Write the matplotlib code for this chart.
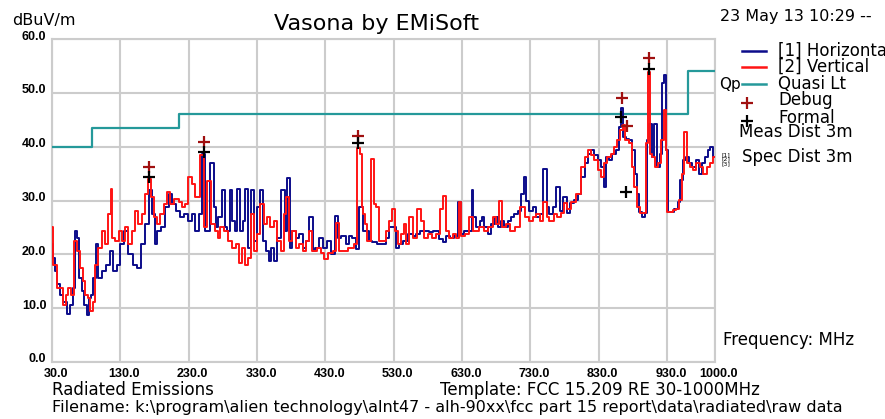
import matplotlib
matplotlib.use("Agg")
import matplotlib.pyplot as plt
import matplotlib.transforms as mtransforms
from matplotlib.lines import Line2D

W, H = 885, 419

# [1] Horizontal trace (MHz, dBuV/m)
h_freq = [30, 32, 37, 39, 44, 49, 54, 59, 61, 65, 69, 71, 76, 78, 83, 86, 88, 93, 96, 100,
          105, 113, 117, 122, 127, 132, 139, 144, 152, 157, 164, 169, 174, 179, 181, 186, 193, 198, 203, 208,
          215, 220, 227, 232, 237, 242, 247, 252, 257, 264, 269, 271, 276, 281, 284, 289, 292, 296, 299, 303,
          307, 311, 315, 318, 324, 328, 333, 336, 340, 345, 350, 352, 357, 362, 369, 372, 376, 379, 384, 389,
          394, 399, 403, 410, 413, 418, 424, 430, 435, 440, 447, 450, 457, 462, 467, 472, 477, 482, 487, 491,
          496, 501, 509, 516, 521, 526, 531, 535, 540, 548, 555, 560, 565, 572, 579, 584, 592, 599, 604, 609,
          616, 621, 627, 631, 636, 643, 645, 648, 653, 658, 660, 665, 670, 675, 680, 685, 689, 694, 699, 704,
          709, 714, 719, 722, 726, 731, 736, 741, 746, 752, 755, 760, 765, 770, 775, 781, 786, 790, 798, 802,
          807, 812, 817, 821, 826, 831, 836, 839, 843, 848, 852, 857, 861, 864, 868, 871, 876, 881, 885, 888,
          890, 895, 899, 902, 906, 909, 913, 917, 921, 924, 928, 930, 932, 938, 943, 948, 951, 955, 959, 964,
          969, 974, 979, 983, 988, 991, 994, 1000]
h_level = [22.0, 19.4, 16.9, 14.4, 12.5, 11.2, 9.0, 10.6, 13.7, 24.4, 23.1, 15.6, 13.1, 10.6, 8.7, 11.9, 12.5, 15.6, 21.9, 15.6,
           16.9, 18.1, 20.6, 16.9, 18.1, 21.9, 24.4, 20.0, 18.1, 17.5, 21.9, 25.6, 31.9, 27.5, 21.9, 24.4, 25.0, 28.7, 31.2, 29.4,
           28.1, 26.9, 27.5, 26.2, 27.5, 24.4, 27.5, 38.7, 24.4, 36.9, 28.7, 25.0, 26.9, 31.9, 25.0, 24.4, 31.9, 26.2, 24.4, 32.2,
           24.4, 26.2, 32.2, 21.2, 31.9, 22.5, 28.7, 31.9, 22.5, 20.6, 18.7, 21.2, 18.7, 23.1, 31.9, 24.4, 34.1, 21.2, 24.4, 23.1,
           23.7, 21.2, 22.5, 27.0, 20.6, 21.2, 23.1, 21.2, 22.5, 20.0, 27.2, 23.1, 23.4, 21.9, 23.4, 23.1, 20.9, 28.7, 24.4, 24.4,
           22.5, 22.2, 21.9, 21.9, 23.1, 25.0, 25.0, 21.2, 21.9, 22.5, 23.7, 23.4, 23.7, 24.4, 24.4, 24.1, 24.4, 22.8, 22.2, 23.4,
           23.1, 23.4, 29.7, 23.7, 24.4, 24.4, 31.9, 26.9, 25.0, 26.2, 26.9, 25.0, 23.7, 25.6, 26.9, 25.0, 26.2, 25.0, 26.2, 26.9,
           27.5, 28.1, 31.2, 34.4, 30.0, 28.1, 28.7, 26.9, 27.5, 35.9, 28.7, 27.5, 28.7, 32.5, 28.1, 30.7, 27.6, 29.5, 30.1, 31.3,
           34.4, 36.9, 38.7, 39.4, 38.4, 37.5, 36.3, 32.6, 38.1, 37.5, 38.7, 39.4, 43.7, 47.1, 41.8, 41.5, 41.2, 39.4, 35.0, 31.3,
           27.9, 27.0, 27.6, 41.2, 44.3, 38.1, 44.3, 36.3, 38.7, 51.8, 53.3, 39.4, 27.9, 27.9, 28.5, 29.8, 33.8, 37.5, 38.1, 36.9,
           36.3, 37.5, 35.0, 36.9, 38.1, 39.4, 40.0, 38.1]

# [2] Vertical trace
v_freq = [30, 34, 42, 49, 51, 56, 59, 64, 69, 74, 76, 81, 83, 88, 91, 96, 100, 105, 110, 115,
          117, 120, 125, 130, 135, 139, 144, 149, 154, 159, 164, 169, 173, 176, 181, 186, 191, 196, 201, 205,
          213, 218, 223, 227, 232, 237, 242, 250, 254, 259, 267, 271, 274, 279, 284, 291, 296, 301, 306, 311,
          315, 318, 323, 328, 333, 337, 342, 347, 352, 357, 362, 367, 372, 374, 379, 384, 389, 394, 399, 403,
          408, 413, 421, 425, 430, 438, 443, 447, 452, 460, 465, 469, 474, 478, 482, 484, 487, 489, 494, 499,
          503, 506, 511, 516, 521, 526, 530, 533, 538, 543, 546, 550, 555, 560, 567, 572, 577, 582, 589, 594,
          600, 605, 609, 614, 619, 623, 627, 631, 638, 643, 650, 658, 665, 672, 677, 682, 686, 691, 697, 704,
          711, 719, 724, 731, 736, 741, 746, 752, 756, 758, 763, 767, 772, 776, 781, 786, 793, 800, 807, 812,
          817, 821, 826, 831, 836, 840, 845, 850, 855, 859, 863, 867, 871, 876, 880, 883, 888, 893, 898, 901,
          904, 906, 909, 914, 919, 924, 928, 929, 931, 936, 940, 945, 950, 953, 957, 961, 966, 970, 975, 980,
          986, 990, 995, 1000]
v_level = [25.0, 18.1, 13.7, 10.6, 12.5, 13.7, 12.5, 22.5, 20.6, 17.5, 15.0, 12.5, 11.9, 9.4, 11.2, 18.1, 21.2, 24.4, 21.9, 27.5,
           32.2, 23.1, 22.5, 24.4, 22.5, 25.0, 21.9, 24.4, 28.1, 25.6, 27.5, 31.2, 34.0, 30.6, 26.9, 25.6, 27.5, 29.4, 31.5, 29.4,
           30.3, 29.7, 28.7, 29.4, 34.4, 33.1, 30.6, 38.4, 25.0, 33.7, 25.6, 24.4, 23.1, 25.0, 24.4, 22.5, 21.2, 21.9, 18.4, 21.2,
           18.1, 19.4, 27.5, 20.6, 23.7, 29.4, 25.6, 26.9, 25.0, 26.2, 22.5, 20.6, 27.5, 30.6, 22.5, 24.4, 21.2, 21.9, 20.6, 22.5,
           24.4, 20.6, 21.2, 20.3, 19.1, 20.3, 20.6, 25.9, 20.6, 20.6, 21.2, 21.2, 21.9, 39.7, 38.7, 28.7, 27.5, 25.6, 22.5, 37.8,
           29.4, 28.7, 22.5, 22.5, 24.4, 26.2, 28.4, 24.4, 21.9, 23.7, 25.6, 21.9, 26.9, 23.1, 28.4, 26.2, 23.1, 23.7, 23.1, 23.7,
           28.4, 30.9, 24.4, 23.1, 23.7, 23.1, 29.7, 23.4, 23.7, 26.9, 24.4, 25.0, 24.4, 25.0, 26.9, 25.6, 30.0, 25.0, 25.6, 24.4,
           25.0, 28.7, 26.9, 26.2, 26.9, 27.5, 26.2, 29.7, 26.9, 26.2, 26.2, 27.5, 26.9, 27.6, 29.5, 28.5, 29.8, 31.3, 36.3, 38.1,
           39.4, 38.4, 37.5, 35.7, 34.4, 36.9, 38.1, 38.7, 40.0, 41.2, 43.1, 44.0, 41.2, 40.6, 36.3, 32.6, 28.8, 27.6, 27.6, 40.6,
           53.9, 38.7, 38.1, 36.3, 36.9, 41.2, 46.8, 39.4, 27.9, 27.9, 28.2, 28.5, 30.1, 35.0, 42.8, 36.9, 36.3, 35.7, 36.9, 36.3,
           35.0, 36.3, 36.9, 38.1]

# Quasi-peak limit (step changes)
limit_freq = [30, 88, 216, 960, 1000]
limit_level = [40.0, 43.5, 46.0, 54.0, 54.0]

# markers
debug_freq = [172, 252, 478, 864, 871, 903]
debug_level = [36.3, 40.9, 42.0, 49.0, 43.8, 56.4]
formal_freq = [172, 252, 478, 863, 870, 903]
formal_level = [34.4, 39.1, 40.6, 45.5, 31.5, 54.4]

x_ticks = [30, 130, 230, 330, 430, 530, 630, 730, 830, 930, 1000]
y_ticks = [0, 10, 20, 30, 40, 50, 60]

BLUE = "#0c0c8a"
RED = "#ff1414"
TEAL = "#25999a"
DEBUG = "#a01010"
GRID = "#cccccc"


def fxy(x, y):
    # pixel position -> figure fraction
    return x / W, 1 - y / H


def main():
    plt.rcParams['font.family'] = ['DejaVu Sans']
    fig = plt.figure(figsize=(W / 100, H / 100), dpi=100)
    ax = fig.add_axes([52 / W, 1 - 362 / H, (715 - 52) / W, (362 - 39) / H])
    draw_traces(ax)
    format_axes(fig, ax)
    draw_legend(fig)
    draw_texts(fig)
    fig.savefig("out.png", dpi=100)


def draw_traces(ax):
    ax.step(limit_freq, limit_level, where="post", color=TEAL, lw=1.6, zorder=3)
    ax.step(h_freq, h_level, where="mid", color=BLUE, lw=1.4, zorder=4)
    ax.step(v_freq, v_level, where="mid", color=RED, lw=1.4, zorder=5)
    ax.plot(debug_freq, debug_level, "+", color=DEBUG, ms=8, mew=1.6, zorder=6)
    ax.plot(formal_freq, formal_level, "+", color="black", ms=8, mew=1.6, zorder=6)


def format_axes(fig, ax):
    ax.set_xlim(30, 1000)
    ax.set_ylim(0, 60)
    ax.set_xticks(x_ticks)
    ax.set_yticks(y_ticks)
    ax.set_xticklabels(["%.1f" % t for t in x_ticks])
    ax.set_yticklabels(["%.1f" % t for t in y_ticks])
    ax.grid(True, color=GRID, lw=1.5)
    ax.set_axisbelow(True)
    for s in ax.spines.values():
        s.set_color(GRID)
        s.set_linewidth(1.5)
    ax.tick_params(length=0, labelsize=9, pad=4)
    for lab in ax.get_xticklabels() + ax.get_yticklabels():
        lab.set_fontweight("bold")
        lab.set_family("Liberation Sans")
    for lab in ax.get_yticklabels():
        lab.set_transform(lab.get_transform() + mtransforms.ScaledTranslation(0, 0.04, fig.dpi_scale_trans))
    for lab in ax.get_xticklabels():
        lab.set_transform(lab.get_transform() + mtransforms.ScaledTranslation(0.04, 0, fig.dpi_scale_trans))
    # Qp label at the limit line end
    ax.text(1.006, 53, "Qp", transform=ax.get_yaxis_transform(), fontsize=11, va="top", ha="left")


def draw_legend(fig):
    rows = [("[1] Horizontal", BLUE, None, 51),
            ("[2] Vertical", RED, None, 67),
            ("Quasi Lt", TEAL, None, 84),
            ("Debug", DEBUG, "+", 103),
            ("Formal", "black", "+", 121)]
    for label, color, marker, y in rows:
        if marker is None:
            x0, y0 = fxy(742, y)
            x1, _ = fxy(766, y)
            fig.add_artist(Line2D([x0, x1], [y0, y0], color=color, lw=1.8, transform=fig.transFigure))
        else:
            x0, y0 = fxy(747, y)
            fig.add_artist(Line2D([x0], [y0], marker=marker, color=color, ms=8, mew=1.6, transform=fig.transFigure))
        tx, ty = fxy(778, y - 3 if marker else y)
        fig.text(tx, ty, label, fontsize=12, va="center", ha="left")
    fig.text(*fxy(739, 132), "Meas Dist 3m", fontsize=12, va="center")
    fig.text(*fxy(742, 157), "Spec Dist 3m", fontsize=12, va="center")
    fig.text(*fxy(721, 159), "[1]\n[2]\n[3]", fontsize=4.5, va="center", linespacing=0.9)


def draw_texts(fig):
    fig.text(*fxy(377, 24), "Vasona by EMiSoft", fontsize=16, ha="center", va="center")
    fig.text(*fxy(12, 21), "dBuV/m", fontsize=11.5, va="center")
    fig.text(*fxy(720, 16), "23 May 13 10:29 --", fontsize=11.5, va="center")
    fig.text(*fxy(723, 340), "Frequency: MHz", fontsize=12, va="center")
    fig.text(*fxy(52, 390), "Radiated Emissions", fontsize=12, va="center")
    fig.text(*fxy(440, 390), "Template: FCC 15.209 RE 30-1000MHz", fontsize=12, va="center")
    fig.text(*fxy(52, 407),
             "Filename: k:\\program\\alien technology\\alnt47 - alh-90xx\\fcc part 15 report\\data\\radiated\\raw data",
             fontsize=11.5, va="center")


if __name__ == "__main__":
    main()
